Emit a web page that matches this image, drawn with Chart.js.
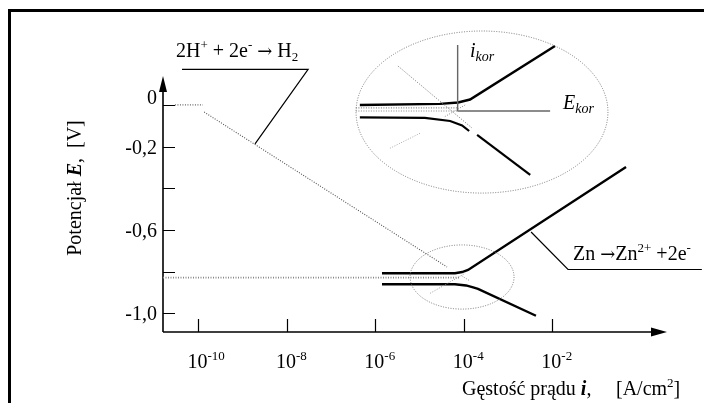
<!DOCTYPE html>
<html>
<head>
<meta charset="utf-8">
<script src="https://cdn.jsdelivr.net/npm/chart.js@4/dist/chart.umd.min.js"></script>
<style>
  html, body { margin: 0; padding: 0; background: #fff; }
  canvas { display: block; }
</style>
</head>
<body>
<canvas id="evans" width="705" height="403"></canvas>
<script>
// x = log10(i), y = E [V]
const xMin = -10.8, xMax = 0.592;
const yMin = -1.09, yMax = 0.139;

const xTickExp = [-10, -8, -6, -4, -2];
const yTickVals = [0, -0.2, -0.4, -0.6, -0.8, -1.0];
const yTickLabels = ['0', '-0,2', '', '-0,6', '', '-1,0'];

// reakcja wodorowa
const h2FlatX = [-10.53, -9.9];
const h2FlatE = [0, 0];
const h2LineX = [-9.87, -4.38];
const h2LineE = [-0.034, -0.778];
const h2TailX = [-4.05, -3.86];
const h2TailE = [-0.82, -0.845];

// potencjal korozyjny (przedluzenie)
const ekorDotX = [-10.8, -4.09];
const ekorDotE = [-0.829, -0.829];

// krzywe Zn
const znUpX = [-5.85, -4.2, -4.04, -3.905, -0.334];
const znUpE = [-0.808, -0.808, -0.802, -0.792, -0.298];
const znLowX = [-5.85, -4.2, -3.95, -3.79, -3.68, -2.37];
const znLowE = [-0.861, -0.861, -0.8665, -0.876, -0.883, -1.012];
const znExtX = [-4.76, -3.97];
const znExtE = [-0.904, -0.808];

// powiekszenie (elipsa)
const insUpX = [-6.35, -4.54, -4.13, -3.86, -1.94];
const insUpE = [0, 0.005, 0.012, 0.026, 0.283];
const insLowX = [-6.35, -4.88, -4.31, -4.04, -3.88];
const insLowE = [-0.060, -0.062, -0.077, -0.098, -0.125];
const insLowTailX = [-3.70, -2.50];
const insLowTailE = [-0.144, -0.336];
const insDotX = [-6.44, -4.13];
const insDotE1 = [-0.014, -0.014];
const insDotE2 = [-0.029, -0.029];
const ikorX = [-4.14, -4.14];
const ikorE = [0.288, -0.032];
const ekorX = [-4.13, -2.05];
const ekorE = [-0.029, -0.029];
const insH2X = [-5.49, -3.82];
const insH2E = [0.187, -0.110];
const insExtX = [-5.67, -4.99];
const insExtE = [-0.208, -0.136];
const insExt2X = [-4.43, -3.97];
const insExt2E = [-0.056, 0];

// odnosniki do opisow
const h2PtrX = [-10.37, -7.52, -8.72];
const h2PtrE = [0.171, 0.171, -0.187];
const znPtrX = [1.38, -1.645, -2.48];
const znPtrE = [-0.79, -0.79, -0.61];

// elipsy: srodek i polosie
const ovalCx = [-4.04, -3.59];
const ovalCy = [-0.826, -0.034];
const ovalRx = [1.175, 2.847];
const ovalRy = [0.154, 0.389];

const serif = '"Liberation Serif", "Times New Roman", serif';
const fs = 20;

function pts(xs, ys) {
    return xs.map((x, i) => ({ x: x, y: ys[i] }));
}

function line(xs, ys, color, width, dash) {
    return {
        data: pts(xs, ys),
        showLine: true,
        borderColor: color,
        borderWidth: width,
        borderDash: dash || [],
        pointRadius: 0,
        fill: false,
        clip: false
    };
}

// tekst z indeksami gornymi / dolnymi
function drawRich(ctx, x, y, parts, size) {
    let cx = x;
    for (const [t, s] of parts) {
        let f = size, dy = 0, st = '', fam = serif;
        if (s === 'sup') { f = size * 0.65; dy = -size * 0.38; }
        if (s === 'sub') { f = size * 0.65; dy = size * 0.2; }
        if (s === 'isub') { f = size * 0.7; dy = size * 0.22; st = 'italic '; }
        if (s === 'i') st = 'italic ';
        if (s === 'bi') st = 'italic bold ';
        if (s === 'arr') { f = size * 0.9; fam = '"DejaVu Serif", serif'; }
        ctx.font = st + f + 'px ' + fam;
        ctx.fillText(t, cx, y + dy);
        cx += ctx.measureText(t).width;
    }
    return cx - x;
}

function richWidth(ctx, parts, size) {
    ctx.save();
    ctx.globalAlpha = 0;
    const w = drawRich(ctx, 0, 0, parts, size);
    ctx.restore();
    return w;
}

const evansPlugin = {
    id: 'evans',
    beforeDatasetsDraw(chart) {
        const ctx = chart.ctx;
        const xs = chart.scales.x, ys = chart.scales.y;
        const a = chart.chartArea;
        ctx.save();
        // ramka
        ctx.fillStyle = '#000';
        ctx.fillRect(8, 9, 696, 3);
        ctx.fillRect(8, 9, 3, 394);

        // osie
        ctx.strokeStyle = '#000';
        ctx.lineWidth = 1.6;
        ctx.beginPath();
        ctx.moveTo(a.left, a.bottom);
        ctx.lineTo(a.left, a.top + 14);
        ctx.moveTo(a.left, a.bottom);
        ctx.lineTo(a.right - 14, a.bottom);
        ctx.stroke();
        ctx.beginPath();
        ctx.moveTo(a.left, a.top);
        ctx.lineTo(a.left - 4, a.top + 16);
        ctx.lineTo(a.left + 4, a.top + 16);
        ctx.closePath();
        ctx.moveTo(a.right, a.bottom);
        ctx.lineTo(a.right - 16, a.bottom - 4.5);
        ctx.lineTo(a.right - 16, a.bottom + 4.5);
        ctx.closePath();
        ctx.fill();

        // znaczniki
        ctx.lineWidth = 1.2;
        ctx.beginPath();
        yTickVals.forEach(v => {
            const py = Math.round(ys.getPixelForValue(v)) + 0.5;
            ctx.moveTo(a.left, py);
            ctx.lineTo(a.left + 12, py);
        });
        xTickExp.forEach(e => {
            const px = Math.round(xs.getPixelForValue(e)) + 0.5;
            ctx.moveTo(px, a.bottom);
            ctx.lineTo(px, a.bottom - 13);
        });
        ctx.stroke();

        // opisy znacznikow
        ctx.fillStyle = '#000';
        ctx.textBaseline = 'alphabetic';
        ctx.textAlign = 'right';
        ctx.font = fs + 'px ' + serif;
        yTickVals.forEach((v, i) => {
            if (!yTickLabels[i]) return;
            const py = ys.getPixelForValue(v) + (v === 0 ? -1 : 7);
            ctx.fillText(yTickLabels[i], a.left - 6, py);
        });
        ctx.textAlign = 'left';
        xTickExp.forEach(e => {
            const px = xs.getPixelForValue(e);
            ctx.font = fs + 'px ' + serif;
            const w10 = ctx.measureText('10').width;
            drawRich(ctx, px - w10 / 2 - 1, 368, [['10', 'n'], [String(e), 'sup']], fs);
        });
        ctx.restore();
    },
    afterDatasetsDraw(chart) {
        const ctx = chart.ctx;
        const xs = chart.scales.x, ys = chart.scales.y;
        ctx.save();
        // elipsy
        ctx.strokeStyle = '#777';
        ctx.lineWidth = 1;
        ctx.setLineDash([1, 1.5]);
        ovalCx.forEach((cx, i) => {
            const px = xs.getPixelForValue(cx);
            const py = ys.getPixelForValue(ovalCy[i]);
            const rx = Math.abs(xs.getPixelForValue(cx + ovalRx[i]) - px);
            const ry = Math.abs(ys.getPixelForValue(ovalCy[i] + ovalRy[i]) - py);
            ctx.beginPath();
            ctx.ellipse(px, py, rx, ry, 0, 0, Math.PI * 2);
            ctx.stroke();
        });
        ctx.setLineDash([]);

        // teksty
        ctx.fillStyle = '#000';
        ctx.textAlign = 'left';
        ctx.textBaseline = 'alphabetic';
        drawRich(ctx, 176, 57, [['2H', 'n'], ['+', 'sup'], [' + 2e', 'n'], ['-', 'sup'], [' ', 'n'], ['\u2192', 'arr'], [' H', 'n'], ['2', 'sub']], fs);
        drawRich(ctx, 573, 260, [['Zn ', 'n'], ['\u2192', 'arr'], ['Zn', 'n'], ['2+', 'sup'], [' +2e', 'n'], ['-', 'sup']], fs);
        drawRich(ctx, 470, 57, [['i', 'i'], ['kor', 'isub']], fs);
        drawRich(ctx, 563, 109, [['E', 'i'], ['kor', 'isub']], fs);
        drawRich(ctx, 462, 395, [['G\u0119sto\u015b\u0107 pr\u0105du ', 'n'], ['i', 'bi'], [',', 'n']], fs);
        drawRich(ctx, 616, 395, [['[A/cm', 'n'], ['2', 'sup'], [']', 'n']], fs);

        // opis osi pionowej
        const yParts = [['Potencja\u0142 ', 'n'], ['E', 'bi'], [',  [V]', 'n']];
        const w = richWidth(ctx, yParts, fs);
        ctx.translate(81, 188);
        ctx.rotate(-Math.PI / 2);
        drawRich(ctx, -w / 2, 0, yParts, fs);
        ctx.restore();
    }
};

const dotted = [1, 1.5];
const datasets = [
    line(h2FlatX, h2FlatE, '#666', 1.2, dotted),
    line(h2LineX, h2LineE, '#555', 1.1, dotted),
    line(h2TailX, h2TailE, '#888', 1, dotted),
    line(ekorDotX, ekorDotE, '#888', 1.6, dotted),
    line(znExtX, znExtE, '#999', 1, dotted),
    line(znUpX, znUpE, '#000', 2.4),
    line(znLowX, znLowE, '#000', 2.4),
    line(insDotX, insDotE1, '#888', 1.1, dotted),
    line(insDotX, insDotE2, '#888', 1.1, dotted),
    line(insH2X, insH2E, '#777', 1, dotted),
    line(insExtX, insExtE, '#aaa', 1, dotted),
    line(insExt2X, insExt2E, '#888', 1, dotted),
    line(ikorX, ikorE, '#666', 1.4),
    line(ekorX, ekorE, '#666', 1.4),
    line(insUpX, insUpE, '#000', 2.4),
    line(insLowX, insLowE, '#000', 2.2),
    line(insLowTailX, insLowTailE, '#000', 2.2),
    line(h2PtrX, h2PtrE, '#000', 1.2),
    line(znPtrX, znPtrE, '#000', 1.2)
];

new Chart(document.getElementById('evans').getContext('2d'), {
    type: 'scatter',
    data: { datasets: datasets },
    options: {
        responsive: false,
        animation: false,
        devicePixelRatio: 1,
        layout: { padding: { left: 163, right: 38, top: 76, bottom: 71 } },
        plugins: {
            legend: { display: false },
            tooltip: { enabled: false }
        },
        scales: {
            x: { type: 'linear', min: xMin, max: xMax, display: false },
            y: { type: 'linear', min: yMin, max: yMax, display: false }
        }
    },
    plugins: [evansPlugin]
});
</script>
</body>
</html>
